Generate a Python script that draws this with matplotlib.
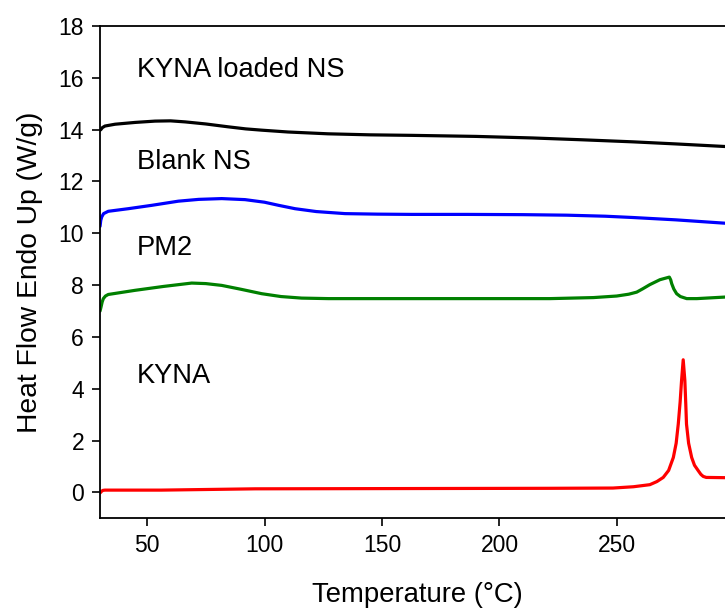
import numpy as np
import matplotlib
matplotlib.use("Agg")
import matplotlib.pyplot as plt

plt.rcParams["font.family"] = ["Liberation Sans", "DejaVu Sans"]

# DSC thermograms (temperature in degC, heat flow in W/g, endo up)
kyna_loaded_t = [30.0, 30.4, 31.0, 32.1, 36.4, 45.0, 53.4, 60.0, 66.2, 75.0, 84.5, 92.0,
                 98.9, 110.0, 127.0, 145.0, 162.8, 190.0, 214.0, 235.0, 256.8, 275.0, 296.0]
kyna_loaded_hf = [13.98, 14.01, 14.08, 14.14, 14.21, 14.28, 14.33, 14.34, 14.30, 14.22,
                  14.11, 14.03, 13.98, 13.91, 13.84, 13.80, 13.78, 13.74, 13.68, 13.61,
                  13.53, 13.45, 13.35]

blank_t = [30.0, 30.3, 30.7, 31.5, 33.5, 42.0, 52.0, 63.3, 72.0, 81.8, 91.7, 100.0, 106.0,
           113.0, 122.0, 134.3, 148.0, 162.6, 186.0, 210.0, 228.6, 245.0, 256.8, 275.0, 296.0]
blank_hf = [10.27, 10.50, 10.63, 10.76, 10.85, 10.95, 11.08, 11.24, 11.31, 11.34, 11.30,
            11.20, 11.08, 10.95, 10.84, 10.76, 10.74, 10.73, 10.73, 10.72, 10.70, 10.66,
            10.61, 10.52, 10.39]

pm2_t = [30.0, 30.4, 30.9, 31.4, 32.3, 33.5, 44.9, 57.0, 69.0, 75.0, 81.8, 90.0, 98.8,
         107.0, 115.8, 127.2, 162.6, 221.5, 240.0, 249.9, 255.0, 258.4, 261.0, 264.0, 268.3,
         272.3, 272.9, 273.3, 274.2, 275.4, 277.0, 279.7, 284.0, 296.0]
pm2_hf = [7.0, 7.15, 7.35, 7.48, 7.58, 7.64, 7.80, 7.95, 8.08, 8.06, 7.99, 7.84, 7.67,
          7.56, 7.50, 7.48, 7.48, 7.48, 7.52, 7.58, 7.65, 7.73, 7.86, 8.02, 8.21, 8.31,
          8.20, 8.06, 7.85, 7.67, 7.56, 7.48, 7.48, 7.54]

kyna_t = [30.0, 30.6, 31.2, 32.1, 56.0, 96.0, 221.5, 248.3, 257.0, 264.0, 267.0, 269.7,
          272.0, 274.0, 275.2, 276.1, 276.9, 277.5, 278.2, 278.9, 279.3, 279.6, 280.5,
          281.8, 283.0, 284.6, 285.7, 286.7, 288.0, 296.0]
kyna_hf = [-0.02, 0.04, 0.08, 0.09, 0.09, 0.14, 0.16, 0.17, 0.22, 0.30, 0.42, 0.58, 0.85,
           1.35, 1.90, 2.64, 3.50, 4.32, 5.12, 4.32, 3.40, 2.64, 1.90, 1.35, 1.05, 0.84,
           0.70, 0.62, 0.58, 0.57]

labels = ["KYNA loaded NS", "Blank NS", "PM2", "KYNA"]
label_pos = [(45.7, 16.3), (45.7, 12.75), (45.7, 9.45), (45.7, 4.5)]

fig = plt.figure(figsize=(7.25, 6.12), dpi=100)
ax = fig.add_axes([0.138, 0.153, 0.875, 0.8045])

lw = 2.3
style = dict(lw=lw, solid_joinstyle="round", solid_capstyle="round")
ax.plot(kyna_loaded_t, kyna_loaded_hf, color="black", **style)
ax.plot(blank_t, blank_hf, color="#0000ff", **style)
ax.plot(pm2_t, pm2_hf, color="#008000", **style)
ax.plot(kyna_t, kyna_hf, color="#ff0000", **style)

for text, (x, y) in zip(labels, label_pos):
    ax.text(x, y, text, fontsize=19.6, ha="left", va="center")

ax.set_xlim(30, 300)
ax.set_ylim(-1, 18)
ax.set_xticks([50, 100, 150, 200, 250])
ax.set_yticks(np.arange(0, 19, 2))
ax.tick_params(direction="out", length=5.5, width=1.2, labelsize=16.5, pad=6)
for side in ["left", "bottom", "top", "right"]:
    ax.spines[side].set_linewidth(1.3)
ax.set_xlabel("Temperature (\u00b0C)", fontsize=19.8, labelpad=18)
ax.set_ylabel("Heat Flow Endo Up (W/g)", fontsize=20.3, labelpad=11)

fig.savefig("out.png", dpi=100)
